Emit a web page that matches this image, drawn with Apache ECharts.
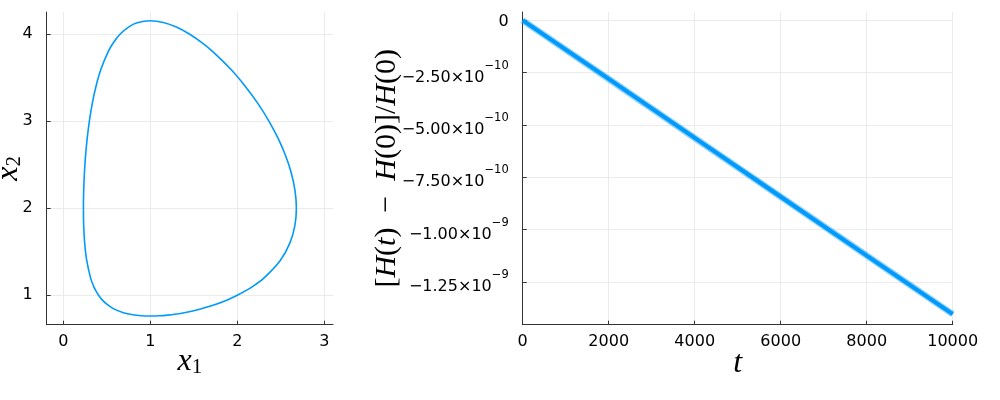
<!DOCTYPE html>
<html><head><meta charset="utf-8">
<script src="https://cdn.jsdelivr.net/npm/echarts@6/dist/echarts.min.js"></script>
<style>html,body{margin:0;padding:0;background:#fff}#c{width:1000px;height:400px}</style>
</head><body><div id="c"></div>
<script>
// Left panel: phase-space orbit (x1, x2)
const orbitX1 = [1.0, 0.9, 0.8, 0.691, 0.570, 0.497, 0.445, 0.406, 0.376, 0.351, 0.314, 0.270, 0.2465, 0.235, 0.232, 0.235, 0.243, 0.256, 0.275, 0.300, 0.333, 0.376, 0.434, 0.517, 0.574, 0.652, 0.75, 0.85, 1.0, 1.15, 1.3, 1.454, 1.597, 1.718, 1.923, 2.093, 2.240, 2.365, 2.471, 2.557, 2.622, 2.664, 2.679, 2.662, 2.604, 2.494, 2.308, 2.174, 2.0, 1.892, 1.764, 1.605, 1.5, 1.390, 1.3, 1.2, 1.1, 1.0];
const orbitX2 = [0.7612, 0.7645, 0.7755, 0.8, 0.85, 0.9, 0.95, 1.0, 1.05, 1.1, 1.2, 1.4, 1.6, 1.8, 2.0, 2.2, 2.4, 2.6, 2.8, 3.0, 3.2, 3.4, 3.6, 3.8, 3.9, 4.0, 4.083, 4.132, 4.156, 4.136, 4.083, 4.0, 3.9, 3.8, 3.6, 3.4, 3.2, 3.0, 2.8, 2.6, 2.4, 2.2, 2.0, 1.8, 1.6, 1.4, 1.2, 1.1, 1.0, 0.95, 0.9, 0.85, 0.823, 0.8, 0.785, 0.772, 0.764, 0.7612];
const leftXTicks = [0, 1, 2, 3];
const leftYTicks = [1, 2, 3, 4];

// Right panel: relative energy error vs t
const timeT = [0, 2000, 4000, 6000, 8000, 10000];
const relErr = [0, -2.80e-10, -5.62e-10, -8.43e-10, -1.124e-9, -1.404e-9];
const rightXTicks = [0, 2000, 4000, 6000, 8000, 10000];
const rightYTicks = [0, -2.5e-10, -5.0e-10, -7.5e-10, -1.0e-9, -1.25e-9];
const rightYMant = ['0', '−2.50×10', '−5.00×10', '−7.50×10', '−1.00×10', '−1.25×10'];
const rightYExp = ['', '−10', '−10', '−10', '−9', '−9'];

const orbitData = orbitX1.map((x, i) => [x, orbitX2[i]]);
const errData = timeT.map((t, i) => [t, relErr[i]]);

const BLUE = '#009AFA';
const AX = '#333333';
const GRIDC = '#ebebeb';
const SANS = 'DejaVu Sans';
const SERIF = 'Liberation Serif';

function baseAxis(extra) {
  return Object.assign({
    type: 'value',
    axisLine: { show: true, onZero: false, lineStyle: { color: AX, width: 1 } },
    splitLine: { show: true, lineStyle: { color: GRIDC, width: 1 } },
    nameMoveOverlap: false
  }, extra);
}
const lblStyle = { fontSize: 16, fontFamily: SANS, color: '#000' };
function ticks(vals) {
  return { show: true, inside: true, length: 4, lineStyle: { color: AX }, customValues: vals };
}

const mathRich = {
  i: { fontFamily: SERIF, fontStyle: 'italic', fontSize: 32, color: '#000', lineHeight: 32, verticalAlign: 'top' },
  s: { fontFamily: SERIF, fontSize: 21, color: '#000', lineHeight: 22, verticalAlign: 'bottom', padding: [16, 0, 0, 0] },
  r: { fontFamily: SERIF, fontSize: 32, color: '#000', lineHeight: 32, verticalAlign: 'top' }
};
const labelRich = {
  i: { fontFamily: SERIF, fontStyle: 'italic', fontSize: 30, color: '#000', lineHeight: 30 },
  r: { fontFamily: SERIF, fontSize: 30, color: '#000', lineHeight: 30 }
};

const option = {
  animation: false,
  backgroundColor: '#fff',
  grid: [
    { left: 46.7, right: 667, top: 12, bottom: 75.3, outerBoundsMode: 'none' },
    { left: 522.7, right: 47.3, top: 12, bottom: 75.3, outerBoundsMode: 'none' }
  ],
  xAxis: [
    baseAxis({
      gridIndex: 0, min: -0.19, max: 3.1,
      axisTick: ticks(leftXTicks),
      axisLabel: Object.assign({ customValues: leftXTicks, margin: 9, formatter: v => String(v) }, lblStyle),
      name: '{i|x}{s|1}', nameLocation: 'middle', nameGap: 21,
      nameTextStyle: { rich: mathRich }
    }),
    baseAxis({
      gridIndex: 1, min: 0, max: 10000,
      axisTick: ticks(rightXTicks),
      axisLabel: Object.assign({ customValues: rightXTicks, margin: 9, formatter: v => String(Math.round(v)) }, lblStyle),
      name: '{i|t}', nameLocation: 'middle', nameGap: 23,
      nameTextStyle: { rich: mathRich }
    })
  ],
  yAxis: [
    baseAxis({
      gridIndex: 0, min: 0.662, max: 4.256,
      axisTick: ticks(leftYTicks),
      axisLabel: Object.assign({ customValues: leftYTicks, margin: 14, formatter: v => String(v) }, lblStyle),
      name: '{i|x}{s|2}', nameLocation: 'middle', nameRotate: 90, nameGap: 22,
      nameTextStyle: { rich: mathRich }
    }),
    baseAxis({
      gridIndex: 1, min: -1.4546e-9, max: 4.0e-11,
      axisTick: ticks(rightYTicks),
      axisLabel: Object.assign({
        customValues: rightYTicks, margin: 14,
        formatter: function (v) {
          let k = 0, best = Infinity;
          rightYTicks.forEach((t, i) => { const d = Math.abs(t - v); if (d < best) { best = d; k = i; } });
          if (!rightYExp[k]) return '{z|' + rightYMant[k] + '}';
          return '{b|' + rightYMant[k] + '}{e|' + rightYExp[k] + '}';
        },
        rich: {
          z: { fontSize: 16, fontFamily: SANS, color: '#000', lineHeight: 20, padding: [2, 0, 0, 0] },
          b: { fontSize: 16, fontFamily: SANS, color: '#000', lineHeight: 26, verticalAlign: 'bottom' },
          e: { fontSize: 11.5, fontFamily: SANS, color: '#000', lineHeight: 18, verticalAlign: 'top' }
        }
      }, lblStyle),
      name: '{r|[}{i|H}{r|(}{i|t}{r|)\u2002−\u2002}{i|H}{r|(0)]/}{i|H}{r|(0)}',
      nameLocation: 'middle', nameRotate: 90, nameGap: 121,
      nameTextStyle: { rich: labelRich }
    })
  ],
  series: [
    {
      type: 'line', xAxisIndex: 0, yAxisIndex: 0, data: orbitData,
      showSymbol: false, smooth: 0.3, lineStyle: { color: BLUE, width: 1.6 }, z: 3
    },
    {
      type: 'line', xAxisIndex: 1, yAxisIndex: 1, data: errData,
      showSymbol: false, lineStyle: { color: BLUE, width: 6.5, opacity: 0.45 }, z: 2
    },
    {
      type: 'line', xAxisIndex: 1, yAxisIndex: 1, data: errData,
      showSymbol: false, lineStyle: { color: BLUE, width: 4 }, z: 3
    }
  ]
};
echarts.init(document.getElementById('c'), null, { renderer: 'canvas' }).setOption(option);
</script>
</body></html>
